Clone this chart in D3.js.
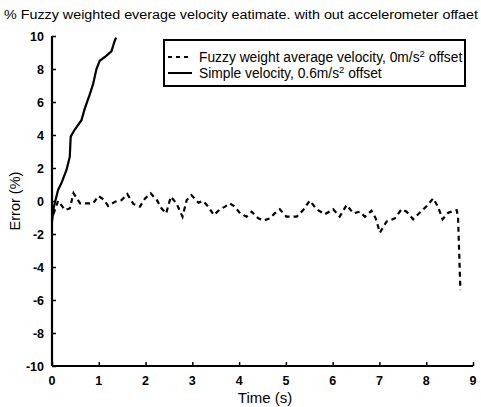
<!DOCTYPE html>
<html>
<head>
<meta charset="utf-8">
<script src="https://cdn.jsdelivr.net/npm/d3@7"></script>
<style>
	body { margin: 0; background: #fff; }
	svg text { font-family: "Liberation Sans", Arial, sans-serif; fill: #000; }
</style>
</head>
<body>
<svg id="chart" width="481" height="407"></svg>
<script>
// time (s) and error (%)
const fuzzyTime = [0.03, 0.13, 0.28, 0.38, 0.46, 0.6, 0.88, 0.99, 1.1, 1.2, 1.35, 1.49, 1.61, 1.74, 1.88, 1.99,
	2.11, 2.24, 2.34, 2.44, 2.54, 2.66, 2.79, 2.88, 2.98, 3.13, 3.23, 3.34, 3.46, 3.59, 3.7, 3.8, 3.91,
	4.02, 4.16, 4.27, 4.41, 4.52, 4.66, 4.76, 4.87, 5.01, 5.23, 5.37, 5.51, 5.66, 5.83, 6.01, 6.15, 6.3,
	6.44, 6.58, 6.69, 6.83, 6.92, 7.01, 7.15, 7.33, 7.47, 7.58, 7.72, 7.86, 8.0, 8.15, 8.25, 8.35, 8.47,
	8.65, 8.68, 8.73];
const fuzzyError = [-0.8, 0, -0.55, -0.45, 0.47, -0.14, -0.14, 0.3, 0.1, -0.3, -0.04, 0.06, 0.42, -0.18, -0.34, 0.16,
	0.47, 0.06, -0.44, -0.75, 0.26, -0.14, -0.95, 0.06, 0.36, -0.1, 0, -0.34, -0.85, -0.5, -0.34, -0.14, -0.34,
	-0.75, -0.95, -0.65, -1.05, -1.19, -1.05, -0.75, -0.5, -0.95, -0.95, -0.55, 0.02, -0.5, -0.81, -0.5, -0.95, -0.24,
	-0.75, -0.65, -0.95, -0.59, -1.05, -1.92, -1.25, -1.05, -0.5, -0.65, -1.11, -0.71, -0.34, 0.16, -0.34, -1.11, -0.71,
	-0.55, -0.95, -5.4];

const simpleTime = [0, 0.04, 0.13, 0.2, 0.31, 0.38, 0.4, 0.48, 0.63, 0.7, 0.8, 0.88, 0.95, 1.02, 1.16, 1.27, 1.34, 1.37];
const simpleError = [-1.25, -0.34, 0.67, 1.07, 1.88, 2.68, 3.9, 4.3, 4.9, 5.6, 6.4, 7.1, 8.0, 8.5, 8.8, 9.07, 9.7, 9.9];

const xTicks = [0, 1, 2, 3, 4, 5, 6, 7, 8, 9];
const yTicks = [-10, -8, -6, -4, -2, 0, 2, 4, 6, 8, 10];

const svg = d3.select("#chart");

let x = d3.scaleLinear().domain([0, 9]).range([52, 473]),
	y = d3.scaleLinear().domain([-10, 10]).range([366, 36]);

// title
svg.append("text")
	.attr("x", 4)
	.attr("y", 19)
	.attr("font-size", 12)
	.attr("textLength", 474)
	.attr("lengthAdjust", "spacingAndGlyphs")
	.text("% Fuzzy weighted everage velocity eatimate. with out accelerometer offaet");

// axes
svg.append("g")
	.attr("transform", "translate(0," + y(-10) + ")")
	.call(d3.axisTop(x).tickValues(xTicks).tickSize(4).tickFormat(""))
	.call(g => g.select(".domain").attr("stroke-width", 2.2).attr("d", "M" + x(0) + ",0H" + x(9)))
	.call(g => g.selectAll(".tick line").attr("stroke-width", 1.5));

svg.append("g")
	.attr("transform", "translate(" + x(0) + ",0)")
	.call(d3.axisRight(y).tickValues(yTicks).tickSize(4).tickFormat(""))
	.call(g => g.select(".domain").attr("stroke-width", 2.2).attr("d", "M0," + y(10) + "V" + y(-10)))
	.call(g => g.selectAll(".tick line").attr("stroke-width", 1.5));

// tick labels
svg.append("g").selectAll("text")
	.data(xTicks)
	.enter().append("text")
	.attr("x", d => x(d))
	.attr("y", 385)
	.attr("text-anchor", "middle")
	.attr("font-size", 12.5)
	.attr("font-weight", "bold")
	.text(d => d);

svg.append("g").selectAll("text")
	.data(yTicks)
	.enter().append("text")
	.attr("x", 44)
	.attr("y", d => y(d) + 4.5)
	.attr("text-anchor", "end")
	.attr("font-size", 12.5)
	.attr("font-weight", "bold")
	.text(d => d);

// axis titles
svg.append("text")
	.attr("x", 265)
	.attr("y", 403)
	.attr("text-anchor", "middle")
	.attr("font-size", 15)
	.text("Time (s)");

svg.append("text")
	.attr("transform", "translate(20," + y(0) + ") rotate(-90)")
	.attr("text-anchor", "middle")
	.attr("font-size", 14.5)
	.text("Error (%)");

// series
let line = d3.line()
	.x(d => x(d[0]))
	.y(d => y(d[1]));

svg.append("path")
	.datum(d3.zip(fuzzyTime, fuzzyError))
	.attr("d", line)
	.attr("fill", "none")
	.attr("stroke", "#000")
	.attr("stroke-width", 2.2)
	.attr("stroke-dasharray", "5,4");

svg.append("path")
	.datum(d3.zip(simpleTime, simpleError))
	.attr("d", line)
	.attr("fill", "none")
	.attr("stroke", "#000")
	.attr("stroke-width", 2.2);

// legend
let legend = svg.append("g");
legend.append("rect")
	.attr("x", 164)
	.attr("y", 40)
	.attr("width", 301)
	.attr("height", 46)
	.attr("fill", "#fff")
	.attr("stroke", "#000")
	.attr("stroke-width", 2);

let legendItems = [
	{ dash: "4,4", label: ["Fuzzy weight average velocity, 0m/s", "2", " offset"] },
	{ dash: null, label: ["Simple velocity, 0.6m/s", "2", " offset"] }
];

legendItems.forEach((item, i) => {
	let cy = 57 + i * 16;
	legend.append("line")
		.attr("x1", 168).attr("x2", 192)
		.attr("y1", cy).attr("y2", cy)
		.attr("stroke", "#000")
		.attr("stroke-width", 2)
		.attr("stroke-dasharray", item.dash);
	let t = legend.append("text")
		.attr("x", 199)
		.attr("y", cy + 5)
		.attr("font-size", 13.8);
	t.append("tspan").text(item.label[0]);
	t.append("tspan").attr("font-size", 9.5).attr("dy", -5).text(item.label[1]);
	t.append("tspan").attr("dy", 5).text(item.label[2]);
});
</script>
</body>
</html>
